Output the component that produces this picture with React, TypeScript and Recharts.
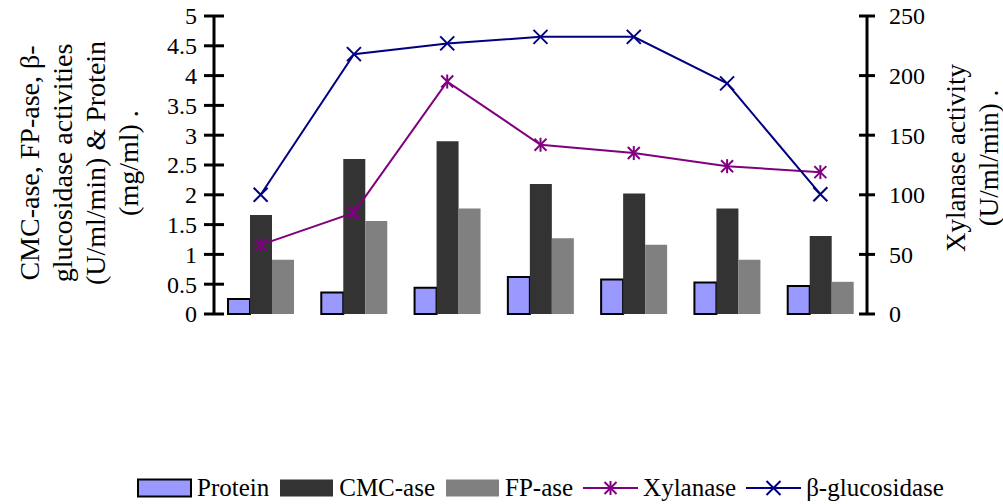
import { Bar, ComposedChart, Legend, Line, XAxis, YAxis } from 'recharts';

// Time course (h)
const hours = ['24', '48', '72', '96', '120', '144', '168'];

// Left axis: enzyme activities (U/ml/min) and protein (mg/ml)
const protein = [0.25, 0.36, 0.44, 0.62, 0.58, 0.53, 0.47];
const cmcase = [1.66, 2.6, 2.9, 2.18, 2.02, 1.77, 1.31];
const fpase = [0.91, 1.56, 1.77, 1.27, 1.16, 0.91, 0.54];
const glucosidase = [2.0, 4.36, 4.54, 4.65, 4.65, 3.87, 2.01];

// Right axis: xylanase activity (U/ml/min)
const xylanase = [58, 85, 195, 142, 135, 124, 119];

const leftTicks = [0, 0.5, 1, 1.5, 2, 2.5, 3, 3.5, 4, 4.5, 5];
const rightTicks = [0, 50, 100, 150, 200, 250];

const data = hours.map((hour, i) => ({
  hour,
  protein: protein[i],
  cmcase: cmcase[i],
  fpase: fpase[i],
  xylanase: xylanase[i],
  glucosidase: glucosidase[i],
}));

const FONT = 'Liberation Serif, Tinos, DejaVu Serif, serif';
const WIDTH = 1003;
const HEIGHT = 504;
const PLOT_LEFT = 214;
const PLOT_RIGHT = 867;
const PLOT_TOP = 16;
const PLOT_BOTTOM = 314;
const BAND = (PLOT_RIGHT - PLOT_LEFT) / hours.length;

const COLORS = {
  protein: '#9999FF',
  cmcase: '#333333',
  fpase: '#808080',
  xylanase: '#800080',
  glucosidase: '#000080',
};

const textStyle = { fontFamily: FONT };

const LeftTick = ({ y, payload }: any) => (
  <g>
    <line x1={PLOT_LEFT - 10} x2={PLOT_LEFT + 10} y1={y} y2={y} stroke="#000" strokeWidth={3} />
    <text x={PLOT_LEFT - 17} y={y} dy="0.35em" textAnchor="end" fontSize={24} style={textStyle} fill="#000">
      {payload.value}
    </text>
  </g>
);

const RightTick = ({ y, payload }: any) => (
  <g>
    <line x1={PLOT_RIGHT - 8} x2={PLOT_RIGHT + 8} y1={y} y2={y} stroke="#000" strokeWidth={3} />
    <text x={PLOT_RIGHT + 22} y={y} dy="0.35em" textAnchor="start" fontSize={24} style={textStyle} fill="#000">
      {payload.value}
    </text>
  </g>
);

// category boundaries get the tick marks, labels sit in the middle
const BottomTick = ({ x, index, payload }: any) => (
  <g>
    <line x1={x - BAND / 2} x2={x - BAND / 2} y1={PLOT_BOTTOM - 9} y2={PLOT_BOTTOM + 10} stroke="#000" strokeWidth={3} />
    {index === hours.length - 1 && (
      <line x1={x + BAND / 2} x2={x + BAND / 2} y1={PLOT_BOTTOM - 9} y2={PLOT_BOTTOM + 10} stroke="#000" strokeWidth={3} />
    )}
    <text x={x} y={356} dy="0.35em" textAnchor="middle" fontSize={24} style={textStyle} fill="#000">
      {payload.value}
    </text>
  </g>
);

const StarDot = ({ cx, cy }: any) => (
  <g stroke={COLORS.xylanase} strokeWidth={2}>
    <line x1={cx - 6} y1={cy - 6} x2={cx + 6} y2={cy + 6} />
    <line x1={cx - 6} y1={cy + 6} x2={cx + 6} y2={cy - 6} />
    <line x1={cx} y1={cy - 7} x2={cx} y2={cy + 7} />
  </g>
);

const CrossDot = ({ cx, cy }: any) => (
  <g stroke={COLORS.glucosidase} strokeWidth={2}>
    <line x1={cx - 7} y1={cy - 7} x2={cx + 7} y2={cy + 7} />
    <line x1={cx - 7} y1={cy + 7} x2={cx + 7} y2={cy - 7} />
  </g>
);

// rotated multi-line axis title
const VerticalTitle = ({ lines, cx, cy, spacing, fontSize }: any) => (
  <g transform={`rotate(-90, ${cx}, ${cy})`}>
    {lines.map((line: string, i: number) => (
      <text
        key={i}
        x={cx}
        y={cy + (i - (lines.length - 1) / 2) * spacing}
        textAnchor="middle"
        dominantBaseline="central"
        fontSize={fontSize}
        style={textStyle}
        fill="#000"
      >
        {line}
      </text>
    ))}
  </g>
);

const TimeTitle = () => (
  <text x={543} y={406} dy="0.35em" textAnchor="middle" fontSize={26} style={textStyle} fill="#000">
    Time course (h)
  </text>
);

const legendItems = [
  { name: 'Protein', kind: 'box', color: COLORS.protein },
  { name: 'CMC-ase', kind: 'box', color: COLORS.cmcase },
  { name: 'FP-ase', kind: 'box', color: COLORS.fpase },
  { name: 'Xylanase', kind: 'star', color: COLORS.xylanase },
  { name: 'β-glucosidase', kind: 'cross', color: COLORS.glucosidase },
];

const LegendContent = () => (
  <div style={{ display: 'flex', alignItems: 'center', paddingLeft: 137, fontFamily: FONT, fontSize: 25, height: 28 }}>
    {legendItems.map((item) => (
      <div key={item.name} style={{ display: 'flex', alignItems: 'center', marginRight: 10 }}>
        <svg width={55} height={20}>
          {item.kind === 'box' ? (
            <rect
              x={1}
              y={1.5}
              width={53}
              height={17}
              fill={item.color}
              stroke={item.name === 'Protein' ? '#000' : item.color}
              strokeWidth={item.name === 'Protein' ? 2 : 0}
            />
          ) : (
            <g>
              <line x1={0} x2={55} y1={10} y2={10} stroke={item.color} strokeWidth={2} />
              {item.kind === 'star' ? <StarDot cx={27.5} cy={10} /> : <CrossDot cx={27.5} cy={10} />}
            </g>
          )}
        </svg>
        <span style={{ marginLeft: 5, lineHeight: '28px' }}>{item.name}</span>
      </div>
    ))}
  </div>
);

export default function App() {
  return (
    <div style={{ position: 'absolute', left: 0, top: 0, background: '#fff', fontFamily: FONT }}>
      <ComposedChart
        width={WIDTH}
        height={HEIGHT}
        data={data}
        margin={{ top: PLOT_TOP, right: 0, bottom: HEIGHT - PLOT_BOTTOM, left: 0 }}
        barCategoryGap="15%"
        barGap={0}
      >
        <XAxis
          dataKey="hour"
          interval={0}
          tickLine={false}
          tick={<BottomTick />}
          axisLine={{ stroke: '#000', strokeWidth: 3 }}
          height={0}
          label={<TimeTitle />}
        />
        <YAxis
          yAxisId="left"
          orientation="left"
          width={PLOT_LEFT}
          domain={[0, 5]}
          ticks={leftTicks}
          interval={0}
          tickLine={false}
          tick={<LeftTick />}
          axisLine={{ stroke: '#000', strokeWidth: 3 }}
          label={
            <VerticalTitle
              lines={['CMC-ase, FP-ase, β-', 'glucosidase activities', '(U/ml/min) & Protein', '(mg/ml) .']}
              cx={79}
              cy={163}
              spacing={33}
              fontSize={28}
            />
          }
        />
        <YAxis
          yAxisId="right"
          orientation="right"
          width={WIDTH - PLOT_RIGHT}
          domain={[0, 250]}
          ticks={rightTicks}
          interval={0}
          tickLine={false}
          tick={<RightTick />}
          axisLine={{ stroke: '#000', strokeWidth: 3 }}
          label={
            <VerticalTitle lines={['Xylanase activity', '(U/ml/min) .']} cx={972.5} cy={158} spacing={33} fontSize={27} />
          }
        />
        <Legend verticalAlign="middle" wrapperStyle={{ top: 474, left: 0, width: WIDTH }} content={<LegendContent />} />
        <Bar yAxisId="left" dataKey="protein" name="Protein" fill={COLORS.protein} stroke="#000" strokeWidth={2} isAnimationActive={false} />
        <Bar yAxisId="left" dataKey="cmcase" name="CMC-ase" fill={COLORS.cmcase} isAnimationActive={false} />
        <Bar yAxisId="left" dataKey="fpase" name="FP-ase" fill={COLORS.fpase} isAnimationActive={false} />
        <Line
          yAxisId="right"
          dataKey="xylanase"
          name="Xylanase"
          stroke={COLORS.xylanase}
          strokeWidth={2}
          dot={<StarDot />}
          activeDot={false}
          isAnimationActive={false}
        />
        <Line
          yAxisId="left"
          dataKey="glucosidase"
          name="β-glucosidase"
          stroke={COLORS.glucosidase}
          strokeWidth={2}
          dot={<CrossDot />}
          activeDot={false}
          isAnimationActive={false}
        />
      </ComposedChart>
    </div>
  );
}
